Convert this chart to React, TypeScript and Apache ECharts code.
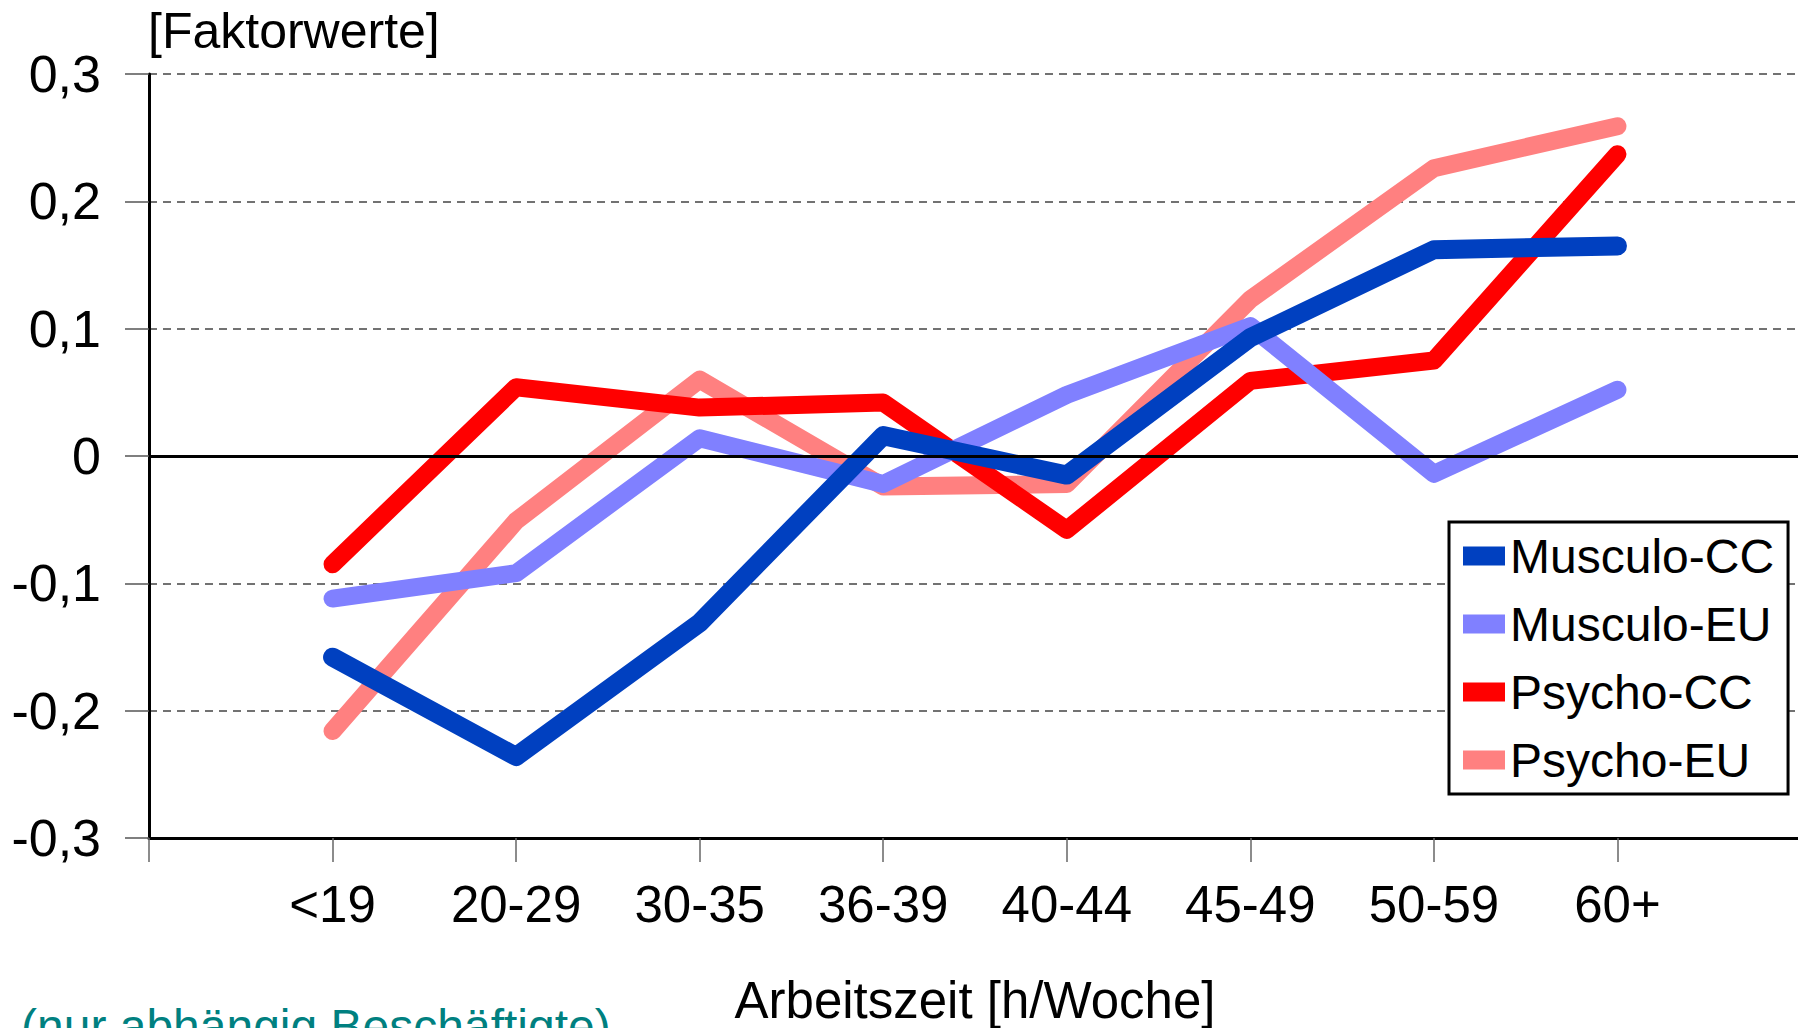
import React, { useEffect, useRef } from "react";
import * as echarts from "echarts";

const categories = ["", "<19", "20-29", "30-35", "36-39", "40-44", "45-49", "50-59", "60+", ""];
const musculoCC = [null, -0.158, -0.236, -0.131, 0.016, -0.015, 0.093, 0.162, 0.165, null];
const musculoEU = [null, -0.112, -0.092, 0.014, -0.022, 0.048, 0.102, -0.014, 0.052, null];
const psychoCC = [null, -0.085, 0.054, 0.038, 0.042, -0.058, 0.059, 0.075, 0.237, null];
const psychoEU = [null, -0.216, -0.051, 0.060, -0.024, -0.022, 0.123, 0.226, 0.259, null];

const yMin = -0.3;
const yMax = 0.3;
const yStep = 0.1;

const FONT = "'Liberation Sans', Arial, sans-serif";

export default function App() {
  const ref = useRef<HTMLDivElement>(null);

  useEffect(() => {
    if (!ref.current) return;
    const chart = echarts.init(ref.current, null, { renderer: "svg" });
    const lineBase = { type: "line", symbol: "none", smooth: false };
    chart.setOption({
      animation: false,
      backgroundColor: "#ffffff",
      textStyle: { fontFamily: FONT },
      title: {
        text: "[Faktorwerte]",
        left: 148,
        top: 6,
        padding: 0,
        textStyle: { fontFamily: FONT, fontSize: 50, fontWeight: "normal", color: "#000" },
      },
      grid: {
        left: 149,
        top: 74,
        width: 1652,
        height: 764,
        containLabel: false,
        outerBoundsMode: "none",
      },
      legend: {
        orient: "vertical",
        left: 1449,
        top: 522,
        padding: [10, 14, 10, 14],
        borderColor: "#000",
        borderWidth: 3,
        backgroundColor: "#fff",
        icon: "rect",
        itemWidth: 42,
        itemHeight: 19,
        itemGap: 20,
        textStyle: { fontFamily: FONT, fontSize: 48, color: "#000", lineHeight: 48 },
        data: ["Musculo-CC", "Musculo-EU", "Psycho-CC", "Psycho-EU"],
      },
      xAxis: {
        type: "category",
        data: categories,
        boundaryGap: false,
        name: "Arbeitszeit [h/Woche]",
        nameLocation: "middle",
        nameGap: 137,
        nameTextStyle: { fontFamily: FONT, fontSize: 51, color: "#000" },
        axisLine: { onZero: false, lineStyle: { color: "#000", width: 3 } },
        axisTick: { show: true, interval: 0, length: 24, lineStyle: { color: "#666", width: 1.5 } },
        axisLabel: { interval: 0, margin: 41, fontFamily: FONT, fontSize: 51, color: "#000" },
        splitLine: { show: false },
      },
      yAxis: {
        type: "value",
        min: yMin,
        max: yMax,
        interval: yStep,
        axisLine: { show: true, lineStyle: { color: "#000", width: 3 } },
        axisTick: { show: true, length: 24, lineStyle: { color: "#555", width: 1.5 } },
        axisLabel: {
          margin: 48,
          fontFamily: FONT,
          fontSize: 52,
          color: "#000",
          formatter: (v: number) => (Math.abs(v) < 1e-9 ? "0" : v.toFixed(1).replace(".", ",")),
        },
        splitLine: { show: true, lineStyle: { color: "#444", width: 1.5, type: [8, 6] } },
      },
      graphic: [
        {
          type: "text",
          left: 21,
          top: 1002,
          style: {
            text: "(nur abhängig Beschäftigte)",
            fontFamily: FONT,
            fontSize: 48,
            fill: "#008080",
          },
        },
      ],
      series: [
        {
          ...lineBase,
          name: "Musculo-CC",
          data: musculoCC,
          z: 5,
          color: "#0040C0",
          lineStyle: { color: "#0040C0", width: 19, cap: "round", join: "round" },
          markLine: {
            silent: true,
            symbol: "none",
            z: 10,
            label: { show: false },
            lineStyle: { color: "#000", width: 3, type: "solid" },
            data: [{ yAxis: 0 }],
          },
        },
        {
          ...lineBase,
          name: "Musculo-EU",
          data: musculoEU,
          z: 4,
          color: "#8080FF",
          lineStyle: { color: "#8080FF", width: 18, cap: "round", join: "round" },
        },
        {
          ...lineBase,
          name: "Psycho-CC",
          data: psychoCC,
          z: 3,
          color: "#FF0000",
          lineStyle: { color: "#FF0000", width: 18, cap: "round", join: "round" },
        },
        {
          ...lineBase,
          name: "Psycho-EU",
          data: psychoEU,
          z: 2,
          color: "#FF8080",
          lineStyle: { color: "#FF8080", width: 18, cap: "round", join: "round" },
        },
      ],
    });
    return () => chart.dispose();
  }, []);

  return (
    <div
      ref={ref}
      style={{ position: "absolute", left: 0, top: 0, width: 1798, height: 1028, overflow: "hidden" }}
    />
  );
}
